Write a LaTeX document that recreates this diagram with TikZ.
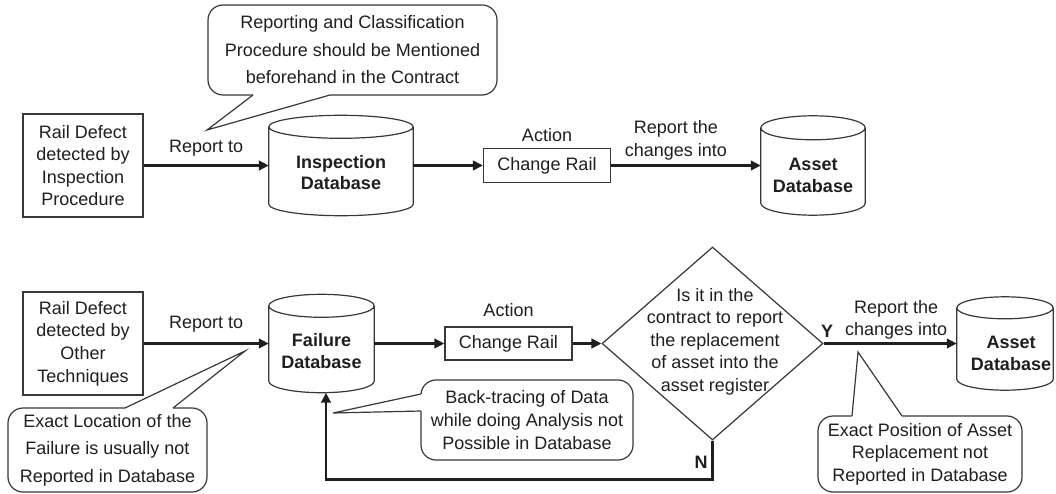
\documentclass[tikz,border=0pt]{standalone}
\usepackage{fontspec}
\setmainfont{Liberation Sans}
\usetikzlibrary{arrows.meta,shapes.geometric,calc}

\definecolor{ink}{gray}{0.12}
\definecolor{edgeline}{gray}{0.22}

% cylinder outline around a (hidden) rectangular node: #1 node, #2 end-ellipse y radius
\newcommand\drawdb[2]{%
  \draw[outline] let \p1=(#1.north west), \p2=(#1.north east), \n1={(\x2-\x1)/2} in
    ([yshift=-#2]#1.north west) -- ([yshift=#2]#1.south west)
    arc[start angle=180, end angle=360, x radius=\n1, y radius=#2]
    -- ([yshift=-#2]#1.north east)
    ([yshift=-#2]#1.north) ellipse[x radius=\n1, y radius=#2];
}
% pointer of a speech bubble: #1 tip, #2 and #3 base points on the border, (#4,#5) inward offset
\newcommand\calltail[5]{%
  \fill[white] (#2) -- (#1) -- (#3) -- ([shift={(#4,#5)}]#3) -- ([shift={(#4,#5)}]#2) -- cycle;
  \draw[outline] (#2) -- (#1) -- (#3);
}

\tikzset{
  every node/.style={text=ink, font=\fontsize{18}{22.6}\selectfont},
  outline/.style={draw=edgeline, line width=1.2pt},
  procbox/.style={outline, fill=white, inner sep=0pt, align=center},
  dbbody/.style={inner sep=0pt},
  dbtext/.style={align=center, font=\fontsize{18}{21.8}\selectfont\bfseries},
  lbl/.style={align=center, inner sep=0pt},
  flag/.style={inner sep=0pt, font=\fontsize{18}{21.8}\selectfont\bfseries},
  note/.style={outline, fill=white, rounded corners=15pt, inner sep=0pt, align=center},
  flow/.style={draw=ink, line width=2.8pt, -{Triangle[length=10pt,width=9.5pt]}},
}

\begin{document}
\begin{tikzpicture}[x=1pt, y=-1pt]
\useasboundingbox[fill=white] (0,0) rectangle (1056,494);

% ---------- upper chain: inspection route ----------
\node[procbox, minimum width=120pt, minimum height=103pt] (detA) at (83,165.5)
  {Rail Defect\\detected by\\Inspection\\Procedure};

\node[dbbody, minimum width=144pt, minimum height=100pt] (inspdb) at (341,165.5) {};
\drawdb{inspdb}{11.5pt}
\node[dbtext] (inspdbtext) at ([yshift=-7pt]inspdb.center) {Inspection\\Database};

\node[procbox, minimum width=127pt, minimum height=34pt] (chA) at (547,165.5) {Change Rail};
\node[lbl] (actA) at ([yshift=30.5pt]chA.center) {Action};

\node[dbbody, minimum width=104pt, minimum height=99pt] (assetA) at (813,165.5) {};
\drawdb{assetA}{12pt}
\node[dbtext] (assetAtext) at ([yshift=-10pt]assetA.center) {Asset\\Database};

\draw[flow] (detA) -- node[lbl, yshift=17.5pt] (repA) {Report to} (inspdb);
\draw[flow] (inspdb) -- (chA);
\draw[flow] (chA) -- node[lbl, xshift=-10pt, yshift=25pt] (repB) {Report the\\changes into} (assetA);

% ---------- lower chain: other techniques ----------
\node[procbox, minimum width=120pt, minimum height=103pt] (detB) at (83,343.5)
  {Rail Defect\\detected by\\Other\\Techniques};

\node[dbbody, minimum width=105pt, minimum height=98pt] (faildb) at (321.5,343.5) {};
\drawdb{faildb}{11.5pt}
\node[dbtext] (faildbtext) at ([yshift=-7.5pt]faildb.center) {Failure\\Database};

\node[procbox, minimum width=127pt, minimum height=33pt] (chB) at (508.5,343.5) {Change Rail};
\node[lbl] (actB) at ([yshift=33.5pt]chB.center) {Action};

\node[diamond, outline, inner sep=0pt, minimum width=221pt, minimum height=193pt] (ask) at (712.5,343.5) {};
\node[lbl] (asktext) at (715,341.7)
  {Is it in the\\contract to report\\the replacement\\of asset into the\\asset register};

\node[dbbody, minimum width=96pt, minimum height=93pt] (assetB) at (1005,343.5) {};
\drawdb{assetB}{11pt}
\node[dbtext] (assetBtext) at ([xshift=6pt,yshift=-10pt]assetB.center) {Asset\\Database};

\draw[flow] (detB) -- node[lbl, yshift=19pt] (repC) {Report to} (faildb);
\draw[flow] (faildb) -- (chB);
\draw[flow] (chB) -- (ask);
\draw[flow] (ask) -- node[lbl, xshift=6pt, yshift=23.5pt] (repD) {Report the\\changes into} (assetB);
\node[flag] (yes) at (827,331) {Y};
\draw[flow] (ask.south) -- ++(0,39) -| ([xshift=4.5pt]faildb.south);
\node[flag] (no) at (701,462) {N};

% ---------- speech bubbles ----------
\node[note, minimum width=289pt, minimum height=90pt, font=\fontsize{18}{27.5}\selectfont] (noteA) at (352.5,50)
  {Reporting and Classification\\Procedure should be Mentioned\\beforehand in the Contract};
\coordinate (noteAtip) at (207,130);
\coordinate (noteAl) at (253,95);
\coordinate (noteAr) at (330,95);
\calltail{noteAtip}{noteAl}{noteAr}{0}{-3}

\node[note, minimum width=199pt, minimum height=84pt, font=\fontsize{18}{27.5}\selectfont] (noteB) at (107.5,450)
  {Exact Location of the\\Failure is usually not\\Reported in Database};
\coordinate (noteBtip) at (245,351);
\coordinate (noteBl) at (125,408);
\coordinate (noteBr) at (173,408);
\calltail{noteBtip}{noteBl}{noteBr}{0}{3}

\node[note, minimum width=212pt, minimum height=80pt] (noteC) at (527,420)
  {Back-tracing of Data\\while doing Analysis not\\Possible in Database};
\coordinate (noteCtip) at (333,413);
\coordinate (noteCl) at (421,394);
\coordinate (noteCr) at (421,411);
\calltail{noteCtip}{noteCl}{noteCr}{3}{0}

\node[note, minimum width=204pt, minimum height=76pt] (noteD) at (920,454)
  {Exact Position of Asset\\Replacement not\\Reported in Database};
\coordinate (noteDtip) at (858,352);
\coordinate (noteDl) at (852,416);
\coordinate (noteDr) at (902,416);
\calltail{noteDtip}{noteDl}{noteDr}{0}{3}
\end{tikzpicture}
\end{document}
